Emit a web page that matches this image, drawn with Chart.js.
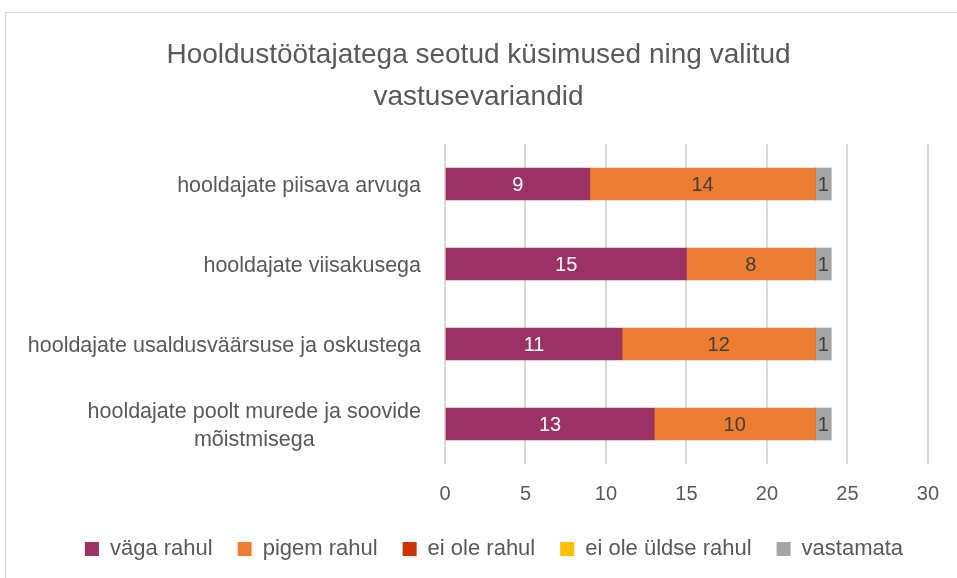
<!DOCTYPE html>
<html>
<head>
<meta charset="utf-8">
<script src="https://cdn.jsdelivr.net/npm/chart.js@4/dist/chart.umd.min.js"></script>
<style>
html,body{margin:0;padding:0;background:#fff;overflow:hidden;}
#frame{position:absolute;left:5px;top:12px;width:1000px;height:600px;border:1.5px solid #d9d9d9;box-sizing:border-box;}
#wrap{position:absolute;left:0;top:0;width:957px;height:570px;}
</style>
</head>
<body>
<div id="frame"></div>
<div id="wrap"><canvas id="c"></canvas></div>
<script>
const titleLines=['Hooldustöötajatega seotud küsimused ning valitud','vastusevariandid'];
const categories=[['hooldajate piisava arvuga'],['hooldajate viisakusega'],['hooldajate usaldusväärsuse ja oskustega'],['hooldajate poolt murede ja soovide','mõistmisega']];
const seriesNames=['väga rahul','pigem rahul','ei ole rahul','ei ole üldse rahul','vastamata'];
const vagaRahul=[9,15,11,13];
const pigemRahul=[14,8,12,10];
const eiOleRahul=[0,0,0,0];
const eiOleYldseRahul=[0,0,0,0];
const vastamata=[1,1,1,1];
const xMax=30,xStep=5;

const FONT='"Liberation Sans", Arial, sans-serif';
const TXT='#595959';
const cols=['#9b3263','#ed7d31','#cc3300','#ffc000','#a5a5a5'];
const lblCols=['#ffffff','#404040','#404040','#404040','#404040'];
const values=[vagaRahul,pigemRahul,eiOleRahul,eiOleYldseRahul,vastamata];

// value labels in the middle of each segment
const barLabels={id:'barLabels',afterDatasetsDraw(ch){
  const ctx=ch.ctx;ctx.save();
  ctx.font='20px '+FONT;ctx.textAlign='center';ctx.textBaseline='middle';
  ch.data.datasets.forEach((ds,i)=>{
    const meta=ch.getDatasetMeta(i);
    meta.data.forEach((el,j)=>{
      const v=ds.data[j];if(!v)return;
      ctx.fillStyle=lblCols[i];
      ctx.fillText(String(v),(el.x+el.base)/2,el.y+1);
    });
  });
  ctx.restore();
}};

// category labels: right edge fixed, wrapped lines centred in their block (Excel style)
const catLabels={id:'catLabels',afterDraw(ch){
  const ctx=ch.ctx,ys=ch.scales.y;ctx.save();
  ctx.font='21.5px '+FONT;ctx.fillStyle=TXT;ctx.textBaseline='middle';ctx.textAlign='center';
  const right=ch.chartArea.left-24,lh=28;
  categories.forEach((lines,i)=>{
    const w=Math.max(...lines.map(s=>ctx.measureText(s).width));
    const cx=right-w/2,cy=ys.getPixelForValue(i);
    lines.forEach((s,k)=>ctx.fillText(s,cx,cy+(k-(lines.length-1)/2)*lh+2));
  });
  ctx.restore();
}};

// title is centred on the whole canvas, legend a bit to the right of it
const shiftTitle={id:'shiftTitle',afterLayout(ch){
  if(ch.titleBlock){ch.titleBlock.left-=15;ch.titleBlock.right-=16;}
}};

new Chart(document.getElementById('c'),{
  type:'bar',
  data:{labels:categories,datasets:seriesNames.map((n,i)=>({label:n,data:values[i],backgroundColor:cols[i],borderWidth:0,barThickness:32}))},
  options:{
    indexAxis:'y',responsive:true,maintainAspectRatio:false,animation:false,
    layout:{padding:{left:45,right:14,top:0,bottom:0}},
    plugins:{
      title:{display:true,text:titleLines,color:TXT,font:{family:FONT,size:28,weight:'normal',lineHeight:1.5},padding:{top:34,bottom:26}},
      legend:{position:'bottom',labels:{color:TXT,font:{family:FONT,size:22},boxWidth:14,boxHeight:14,padding:25}},
      tooltip:{enabled:false}
    },
    scales:{
      x:{stacked:true,min:0,max:xMax,ticks:{stepSize:xStep,color:TXT,font:{family:FONT,size:20},padding:18},
         grid:{color:'#d9d9d9',lineWidth:2,drawTicks:false},border:{display:false},
         afterFit(s){s.height=49;}},
      y:{stacked:true,ticks:{display:false},grid:{display:false},border:{display:false},
         afterFit(s){s.width=400;}}
    }
  },
  plugins:[barLabels,catLabels,shiftTitle]
});
</script>
</body>
</html>
